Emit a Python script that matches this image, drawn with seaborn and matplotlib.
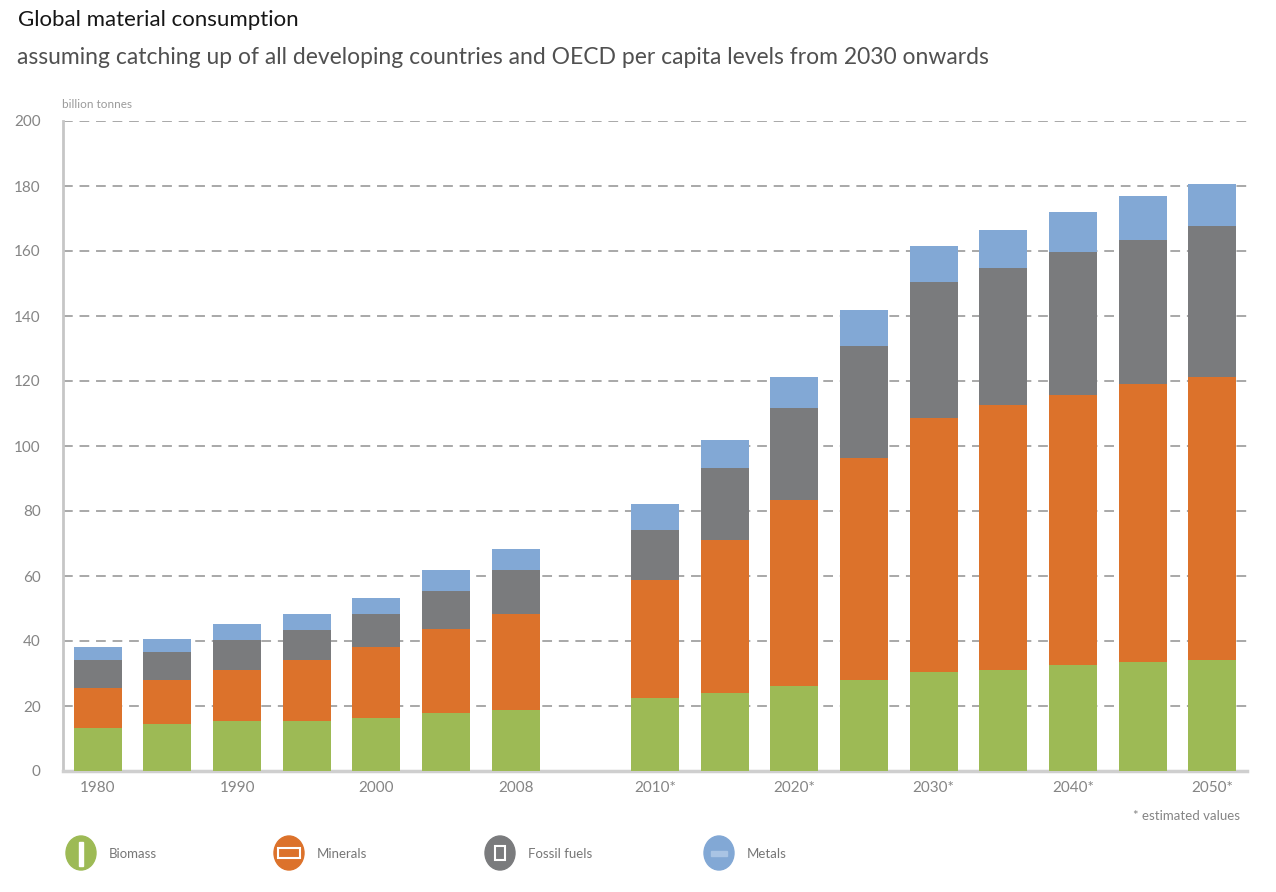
import matplotlib.pyplot as plt
import pandas as pd
import seaborn as sns
from matplotlib.patches import Ellipse, Rectangle

# bars, with one empty slot between the 2008 bar and the estimated values
years = ['1980', '1985', '1990', '1995', '2000', '2005', '2008',
         '2010', '2015', '2020', '2025', '2030', '2035', '2040', '2045', '2050']
gap = ' '
order = years[:7] + [gap] + years[7:]

# billion tonnes per material
biomass = [13.1, 14.6, 15.4, 15.4, 16.3, 17.7, 18.8,
           22.6, 24.1, 26.3, 28.1, 30.6, 31.2, 32.7, 33.6, 34.3]
minerals = [12.5, 13.5, 15.8, 18.9, 22.0, 25.9, 29.6,
            36.2, 47.0, 57.2, 68.2, 78.1, 81.5, 83.1, 85.5, 87.0]
fossil_fuels = [8.7, 8.5, 9.2, 9.2, 10.1, 11.7, 13.4,
                15.4, 22.0, 28.3, 34.5, 41.7, 42.2, 44.0, 44.4, 46.3]
metals = [4.0, 3.9, 4.9, 4.9, 4.7, 6.5, 6.5,
          8.0, 8.6, 9.5, 10.9, 11.0, 11.7, 12.3, 13.4, 13.1]

series = ['Biomass', 'Minerals', 'Fossil fuels', 'Metals']
colors = ['#9dba55', '#dc722b', '#7a7b7d', '#82a8d5']

tick_years = ['1980', '1990', '2000', '2008', '2010', '2020', '2030', '2040', '2050']
tick_labels = ['1980', '1990', '2000', '2008', '2010*', '2020*', '2030*', '2040*', '2050*']

W, H = 1276, 892


def fx(px):
    return px / W


def fy(py):
    return 1 - py / H


sns.set_theme(style='white')
plt.rcParams['font.family'] = ['Lato', 'DejaVu Sans']

df = pd.DataFrame({'year': years, 'Biomass': biomass, 'Minerals': minerals,
                   'Fossil fuels': fossil_fuels, 'Metals': metals})
tops = df[series].cumsum(axis=1)
tops['year'] = df['year']

fig = plt.figure(figsize=(W / 100, H / 100), dpi=100)
ax = fig.add_axes([fx(63), fy(771), fx(1247) - fx(63), fy(121) - fy(771)])

# stacked bars: draw the running totals from the top layer down
for name, color in reversed(list(zip(series, colors))):
    sns.barplot(data=tops, x='year', y=name, order=order, color=color,
                saturation=1, width=0.69, linewidth=0, errorbar=None, ax=ax,
                zorder=3)

ax.set_xlim(-0.5, len(order) - 0.5)
ax.set_ylim(0, 200)
ax.set_yticks(range(0, 201, 20))
ax.yaxis.grid(True, color='#a8a8a8', linestyle=(0, (5, 3.5)), linewidth=1.4,
              zorder=0)
ax.set_axisbelow(True)
ax.set_xticks([order.index(y) for y in tick_years])
ax.set_xticklabels(tick_labels)
ax.set_xlabel('')
ax.set_ylabel('')
ax.tick_params(axis='both', length=0, labelsize=11, labelcolor='#858585')
ax.tick_params(axis='y', pad=16)
ax.tick_params(axis='x', pad=7)
sns.despine(ax=ax, top=True, right=True)
ax.spines['left'].set_color('#c6c6c6')
ax.spines['left'].set_linewidth(2)
ax.spines['bottom'].set_color('#cfcfcf')
ax.spines['bottom'].set_linewidth(2.5)

# titles
fig.text(fx(18), fy(20), 'Global material consumption', fontsize=16,
         color='#161616', va='center', ha='left')
fig.text(fx(17), fy(58),
         'assuming catching up of all developing countries and OECD per capita '
         'levels from 2030 onwards',
         fontsize=16.5, color='#505050', va='center', ha='left')
fig.text(fx(62), fy(104), 'billion tonnes', fontsize=8.5, color='#9a9a9a',
         va='center', ha='left')
fig.text(fx(1240), fy(816), '* estimated values', fontsize=9.5,
         color='#858585', va='center', ha='right')

# legend with round icons
icon_x = [81, 289, 500, 719]
for name, color, x in zip(series, colors, icon_x):
    fig.add_artist(Ellipse((fx(x), fy(853)), 30 / W, 34 / H,
                           transform=fig.transFigure, color=color))
    fig.text(fx(x + 28), fy(854), name, fontsize=9.5, color='#777777',
             va='center', ha='left')

# small white pictograms inside the icons
fig.add_artist(Rectangle((fx(79), fy(866)), 4 / W, 24 / H,
                         transform=fig.transFigure, color='white'))
fig.add_artist(Rectangle((fx(278), fy(858)), 22 / W, 10 / H,
                         transform=fig.transFigure, fill=False,
                         edgecolor='white', linewidth=1.5))
fig.add_artist(Rectangle((fx(495), fy(860)), 10 / W, 14 / H,
                         transform=fig.transFigure, fill=False,
                         edgecolor='white', linewidth=1.5))
fig.add_artist(Rectangle((fx(711), fy(856)), 16 / W, 5 / H,
                         transform=fig.transFigure, color='#a9c4e4'))

fig.savefig('out.png', dpi=100)
